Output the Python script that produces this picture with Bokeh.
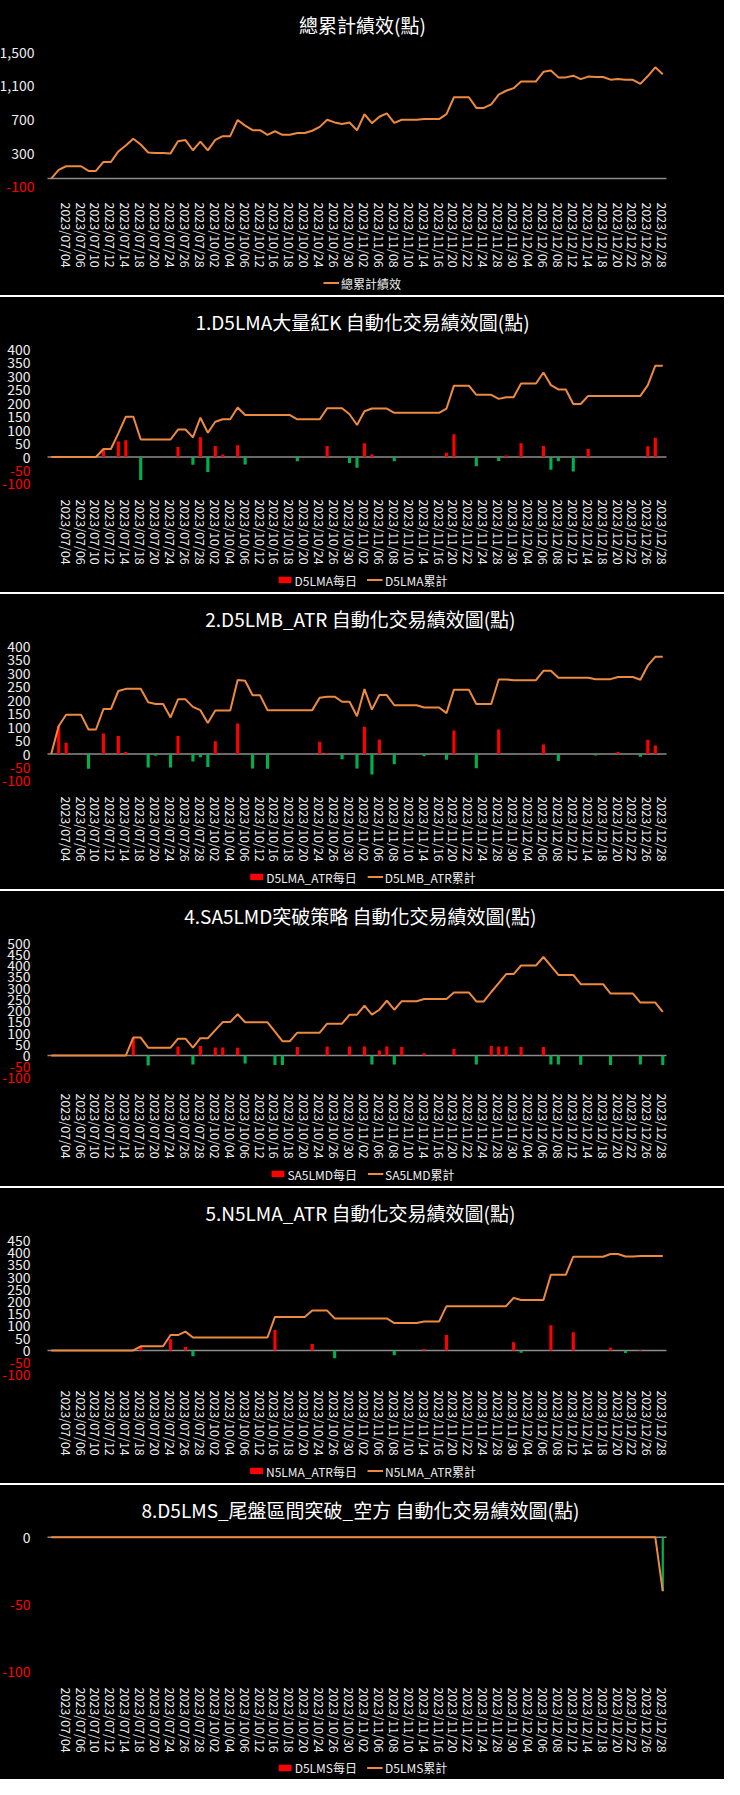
from bokeh.plotting import figure
from bokeh.models import (ColumnDataSource, Range1d, FixedTicker, Label, Legend,
                          LegendItem, CDSView, BooleanFilter)
from bokeh.core.properties import value
from bokeh.layouts import column
from bokeh.embed import file_html
from bokeh.resources import INLINE
import numpy as np
import math

# ---------------- data ----------------
dates = ["", "2023/07/03", "2023/07/04", "2023/07/05", "2023/07/06", "2023/07/07", "2023/07/10",
         "2023/07/11", "2023/07/12", "2023/07/13", "2023/07/14", "2023/07/17", "2023/07/18",
         "2023/07/19", "2023/07/20", "2023/07/21", "2023/07/24", "2023/07/25", "2023/07/26",
         "2023/07/27", "2023/07/28", "2023/07/31", "2023/10/02", "2023/10/03", "2023/10/04",
         "2023/10/05", "2023/10/06", "2023/10/11", "2023/10/12", "2023/10/13", "2023/10/16",
         "2023/10/17", "2023/10/18", "2023/10/19", "2023/10/20", "2023/10/23", "2023/10/24",
         "2023/10/25", "2023/10/26", "2023/10/27", "2023/10/30", "2023/10/31", "2023/11/02",
         "2023/11/03", "2023/11/06", "2023/11/07", "2023/11/08", "2023/11/09", "2023/11/10",
         "2023/11/13", "2023/11/14", "2023/11/15", "2023/11/16", "2023/11/17", "2023/11/20",
         "2023/11/21", "2023/11/22", "2023/11/23", "2023/11/24", "2023/11/27", "2023/11/28",
         "2023/11/29", "2023/11/30", "2023/12/01", "2023/12/04", "2023/12/05", "2023/12/06",
         "2023/12/07", "2023/12/08", "2023/12/11", "2023/12/12", "2023/12/13", "2023/12/14",
         "2023/12/15", "2023/12/18", "2023/12/19", "2023/12/20", "2023/12/21", "2023/12/22",
         "2023/12/25", "2023/12/26", "2023/12/27", "2023/12/28"]

total_cum = [0, 104, 146, 146, 146, 91, 91, 197, 197, 322,
             392, 472, 404, 309, 303, 303, 299, 443, 457, 336,
             439, 335, 459, 504, 504, 696, 629, 575, 575, 520,
             562, 520, 520, 542, 542, 568, 614, 699, 667, 648,
             666, 572, 764, 658, 734, 774, 661, 699, 699, 699,
             707, 707, 707, 765, 966, 966, 966, 839, 839, 881,
             997, 1043, 1074, 1154, 1154, 1154, 1268, 1284, 1202, 1202,
             1222, 1181, 1211, 1206, 1206, 1175, 1183, 1173, 1173, 1125,
             1218, 1322, 1240]

d5lma_day = [0, 0, 0, 0, 0, 0, 0, 30, 0, 58,
             62, 0, -85, 0, 0, 0, 0, 37, 0, -29,
             73, -56, 41, 9, 0, 44, -28, 0, 0, 0,
             0, 0, 0, -16, 0, 0, 0, 41, 0, 0,
             -22, -40, 51, 10, 0, 0, -16, 0, 0, 0,
             0, 0, 0, 16, 85, 0, 0, -34, 0, 0,
             -15, 6, 0, 51, 0, 0, 41, -47, -16, 0,
             -54, 0, 30, 0, 0, 0, 0, 0, 0, 0,
             40, 72, 0]
d5lma_cum = [0, 0, 0, 0, 0, 0, 0, 30, 30, 88,
             150, 150, 65, 65, 65, 65, 65, 102, 102, 73,
             146, 90, 131, 140, 140, 184, 156, 156, 156, 156,
             156, 156, 156, 140, 140, 140, 140, 181, 181, 181,
             159, 119, 170, 180, 180, 180, 164, 164, 164, 164,
             164, 164, 164, 180, 265, 265, 265, 231, 231, 231,
             216, 222, 222, 273, 273, 273, 314, 267, 251, 251,
             197, 197, 227, 227, 227, 227, 227, 227, 227, 227,
             267, 339, 339]

d5lmb_day = [0, 104, 42, 0, 0, -55, 0, 76, 0, 67,
             8, 0, 0, -50, -6, 0, -50, 67, 0, -28,
             -12, -48, 47, 0, 0, 113, -3, -54, 0, -55,
             0, 0, 0, 0, 0, 0, 46, 4, 0, -19,
             0, -54, 101, -76, 54, 0, -38, 0, 0, 0,
             -8, 0, 0, -21, 87, 0, 0, -53, 0, 0,
             91, 0, -3, 0, 0, 0, 35, 0, -26, 0,
             0, 0, 0, -5, 0, 0, 8, 0, 0, -10,
             53, 32, 0]
d5lmb_cum = [0, 104, 146, 146, 146, 91, 91, 167, 167, 234,
             242, 242, 242, 192, 186, 186, 136, 203, 203, 175,
             163, 115, 162, 162, 162, 275, 272, 218, 218, 163,
             163, 163, 163, 163, 163, 163, 209, 213, 213, 194,
             194, 140, 241, 165, 219, 219, 181, 181, 181, 181,
             173, 173, 173, 152, 239, 239, 239, 186, 186, 186,
             277, 277, 274, 274, 274, 274, 309, 309, 283, 283,
             283, 283, 283, 278, 278, 278, 286, 286, 286, 276,
             329, 361, 361]

sa5lmd_day = [0, 0, 0, 0, 0, 0, 0, 0, 0, 0,
              0, 80, 0, -45, 0, 0, 0, 40, 0, -40,
              42, 0, 36, 36, 0, 35, -36, 0, 0, 0,
              -42, -42, 0, 38, 0, 0, 0, 40, 0, 0,
              40, 0, 40, -40, 22, 40, -40, 38, 0, 0,
              10, 0, 0, 0, 29, 0, 0, -40, 0, 42,
              40, 40, 0, 38, 0, 0, 38, -40, -40, 0,
              0, -41, 0, 0, 0, -42, 0, 0, 0, -40,
              0, 0, -42]
sa5lmd_cum = [0, 0, 0, 0, 0, 0, 0, 0, 0, 0,
              0, 80, 80, 35, 35, 35, 35, 75, 75, 35,
              77, 77, 113, 149, 149, 184, 148, 148, 148, 148,
              106, 64, 64, 102, 102, 102, 102, 142, 142, 142,
              182, 182, 222, 182, 204, 244, 204, 242, 242, 242,
              252, 252, 252, 252, 281, 281, 281, 241, 241, 283,
              323, 363, 363, 401, 401, 401, 439, 399, 359, 359,
              359, 318, 318, 318, 318, 276, 276, 276, 276, 236,
              236, 236, 194]

n5lma_day = [0, 0, 0, 0, 0, 0, 0, 0, 0, 0,
             0, 0, 17, 0, 0, 0, 46, 0, 14, -24,
             0, 0, 0, 0, 0, 0, 0, 0, 0, 0,
             84, 0, 0, 0, 0, 26, 0, 0, -32, 0,
             0, 0, 0, 0, 0, 0, -19, 0, 0, 0,
             6, 0, 0, 63, 0, 0, 0, 0, 0, 0,
             0, 0, 34, -9, 0, 0, 0, 103, 0, 0,
             74, 0, 0, 0, 0, 11, 0, -10, 0, 2,
             0, 0, 0]
n5lma_cum = [0, 0, 0, 0, 0, 0, 0, 0, 0, 0,
             0, 0, 17, 17, 17, 17, 63, 63, 77, 53,
             53, 53, 53, 53, 53, 53, 53, 53, 53, 53,
             137, 137, 137, 137, 137, 163, 163, 163, 131, 131,
             131, 131, 131, 131, 131, 131, 112, 112, 112, 112,
             118, 118, 118, 181, 181, 181, 181, 181, 181, 181,
             181, 181, 215, 206, 206, 206, 206, 309, 309, 309,
             383, 383, 383, 383, 383, 394, 394, 384, 384, 386,
             386, 386, 386]

d5lms_day = [0, 0, 0, 0, 0, 0, 0, 0, 0, 0,
             0, 0, 0, 0, 0, 0, 0, 0, 0, 0,
             0, 0, 0, 0, 0, 0, 0, 0, 0, 0,
             0, 0, 0, 0, 0, 0, 0, 0, 0, 0,
             0, 0, 0, 0, 0, 0, 0, 0, 0, 0,
             0, 0, 0, 0, 0, 0, 0, 0, 0, 0,
             0, 0, 0, 0, 0, 0, 0, 0, 0, 0,
             0, 0, 0, 0, 0, 0, 0, 0, 0, 0,
             0, 0, -40]
d5lms_cum = [0, 0, 0, 0, 0, 0, 0, 0, 0, 0,
             0, 0, 0, 0, 0, 0, 0, 0, 0, 0,
             0, 0, 0, 0, 0, 0, 0, 0, 0, 0,
             0, 0, 0, 0, 0, 0, 0, 0, 0, 0,
             0, 0, 0, 0, 0, 0, 0, 0, 0, 0,
             0, 0, 0, 0, 0, 0, 0, 0, 0, 0,
             0, 0, 0, 0, 0, 0, 0, 0, 0, 0,
             0, 0, 0, 0, 0, 0, 0, 0, 0, 0,
             0, 0, -40]

# ---------------- style / layout ----------------
FONT = "Noto Sans CJK TC"
ORANGE = "#ED8A3F"
RED = "#FF0000"
GREEN = "#00B050"
TXT = "#EDEDED"
BLACK_CSS = {"background-color": "black"}
W = 724
N = len(dates)
idx = list(range(N))
xticks = [i for i in range(0, N, 2) if dates[i]]

MAIN_H = 270          # figure holding title, plot area and date labels
PLOT_TOP = 55         # px from frame top to the top of the value axis
PLOT_BOT = 198        # px from frame top to the bottom of the value axis
FRAME_H = 206         # frame height (a little room below the axis minimum)
LEFT_PX, RIGHT_PX = 47, 58
UNIT = (W - LEFT_PX - RIGHT_PX) / N
X0 = -0.5 - LEFT_PX / UNIT
X1 = N - 0.5 + RIGHT_PX / UNIT


def make_panel(title, ymin, ymax, ticks, cum, cum_label, legend_h,
               day=None, day_label=None, comma=False, tick_size="14px",
               y_standoff=17, bar_width=0.42):
    per_px = (ymax - ymin) / (PLOT_BOT - PLOT_TOP)
    y0 = ymin - (FRAME_H - PLOT_BOT) * per_px
    y1 = ymax + PLOT_TOP * per_px
    p = figure(width=W, height=MAIN_H, output_backend="svg", toolbar_location=None,
               x_range=Range1d(X0, X1), y_range=Range1d(y0, y1),
               y_axis_location=None,
               background_fill_color="black", border_fill_color="black",
               min_border_left=0, min_border_right=0, min_border_top=0,
               min_border_bottom=MAIN_H - FRAME_H)
    p.styles = BLACK_CSS
    p.outline_line_color = None
    p.outline_line_alpha = 0
    p.grid.visible = False

    # title
    p.add_layout(Label(x=(X0 + X1) / 2, y=ymax + (PLOT_TOP - 26) * per_px, text=title,
                       text_align="center", text_baseline="middle",
                       text_color="white", text_font=FONT, text_font_size="19px"))

    # date axis
    xa = p.xaxis[0]
    xa.ticker = FixedTicker(ticks=xticks)
    xa.major_label_overrides = {i: dates[i] for i in xticks}
    xa.major_label_orientation = -math.pi / 2
    xa.axis_line_color = None
    xa.major_tick_line_color = None
    xa.minor_tick_line_color = None
    xa.major_label_standoff = 2
    xa.major_label_text_color = TXT
    xa.major_label_text_font = FONT
    xa.major_label_text_font_size = "12.5px"

    # value tick labels (negative ones in red)
    tick_src = ColumnDataSource(dict(
        x=[-0.5] * len(ticks), y=ticks,
        label=[(f"{v:,}" if comma else str(v)) for v in ticks],
        color=[RED if v < 0 else TXT for v in ticks]))
    p.text(x="x", y="y", text="label", text_color="color", source=tick_src,
           x_offset=-y_standoff, text_align="right", text_baseline="middle",
           text_font=value(FONT), text_font_size=value(tick_size))

    # zero line across the plot area
    p.segment(x0=[-0.5], y0=[0], x1=[N - 0.5], y1=[0], line_color="#8C8C8C",
              line_width=1.5)

    src = ColumnDataSource(dict(x=idx, cum=cum))
    if day is not None:
        src.data["day"] = day
        pos = CDSView(filter=BooleanFilter([v > 0 for v in day]))
        neg = CDSView(filter=BooleanFilter([v < 0 for v in day]))
        p.vbar(x="x", top="day", bottom=0, width=bar_width, source=src, view=pos,
               fill_color=RED, line_color=None)
        p.vbar(x="x", top="day", bottom=0, width=bar_width, source=src, view=neg,
               fill_color=GREEN, line_color=None)
    p.line(x="x", y="cum", source=src, line_color=ORANGE, line_width=2)

    # legend strip (legend swatches only; the NaN rows draw nothing)
    lf = figure(width=W, height=legend_h, output_backend="svg", toolbar_location=None,
                x_range=Range1d(0, 1), y_range=Range1d(0, 1),
                x_axis_location=None, y_axis_location=None,
                background_fill_color="black", border_fill_color="black",
                min_border=0)
    lf.styles = BLACK_CSS
    lf.outline_line_color = None
    lf.outline_line_alpha = 0
    lf.grid.visible = False
    nan = np.array([np.nan])
    items = []
    if day is not None:
        rb = lf.vbar(x=nan, top=nan, width=0.1, fill_color=RED, line_color=None)
        items.append(LegendItem(label=day_label, renderers=[rb]))
    rl = lf.line(x=nan, y=nan, line_color=ORANGE, line_width=2)
    items.append(LegendItem(label=cum_label, renderers=[rl]))
    lf.add_layout(Legend(items=items, orientation="horizontal", location="center",
                         background_fill_alpha=0, border_line_alpha=0,
                         label_text_color=TXT, label_text_font=FONT,
                         label_text_font_size="12px", glyph_width=16, glyph_height=8,
                         label_standoff=2, spacing=10, padding=0, margin=0,
                         label_height=14))
    return column(p, lf, spacing=0)


ticks_400 = [-100, -50, 0, 50, 100, 150, 200, 250, 300, 350, 400]
p1 = make_panel("總累計績效(點)", -100, 1500, [-100, 300, 700, 1100, 1500],
                total_cum, "總累計績效", 25, comma=True, y_standoff=13)
p2 = make_panel("1.D5LMA大量紅K 自動化交易績效圖(點)", -100, 400, ticks_400,
                d5lma_cum, "D5LMA累計", 25, day=d5lma_day, day_label="D5LMA每日")
p3 = make_panel("2.D5LMB_ATR  自動化交易績效圖(點)", -100, 400, ticks_400,
                d5lmb_cum, "D5LMB_ATR累計", 25, day=d5lmb_day,
                day_label="D5LMA_ATR每日")
p4 = make_panel("4.SA5LMD突破策略  自動化交易績效圖(點)", -100, 500,
                [-100, -50, 0, 50, 100, 150, 200, 250, 300, 350, 400, 450, 500],
                sa5lmd_cum, "SA5LMD累計", 25, day=sa5lmd_day, day_label="SA5LMD每日")
p5 = make_panel("5.N5LMA_ATR  自動化交易績效圖(點)", -100, 450,
                [-100, -50, 0, 50, 100, 150, 200, 250, 300, 350, 400, 450],
                n5lma_cum, "N5LMA_ATR累計", 25, day=n5lma_day,
                day_label="N5LMA_ATR每日")
p6 = make_panel("8.D5LMS_尾盤區間突破_空方  自動化交易績效圖(點)", -100, 0,
                [-100, -50, 0], d5lms_cum, "D5LMS累計", 24, day=d5lms_day,
                day_label="D5LMS每日", bar_width=0.3)

layout = column(p1, p2, p3, p4, p5, p6, spacing=2)
open("out.html", "w").write(file_html(layout, INLINE))
